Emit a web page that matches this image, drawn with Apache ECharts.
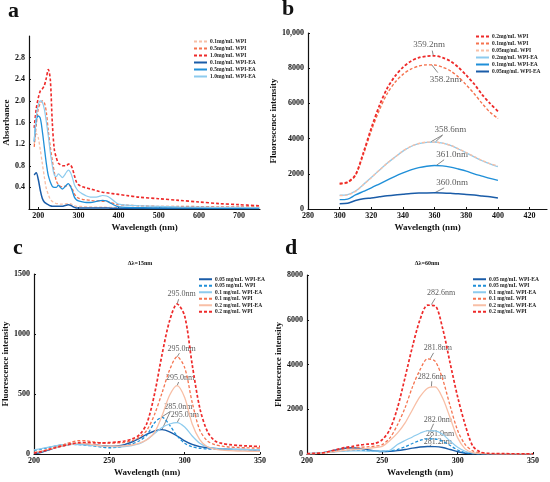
<!DOCTYPE html>
<html>
<head>
<meta charset="utf-8">
<script src="https://cdn.jsdelivr.net/npm/echarts@6/dist/echarts.min.js"></script>
<style>
html, body { margin: 0; padding: 0; background: #fff; }
#chart { width: 550px; height: 482px; }
</style>
</head>
<body>
<div id="chart"></div>
<script>
// ---- panel a : UV absorbance ----
var aX = [190, 195, 200, 205, 210, 215, 220, 225, 230, 235, 240, 245, 250, 255, 260, 265, 270, 275, 280, 285, 290, 295, 300, 310, 320, 330, 340, 350, 360, 370, 380, 390, 400, 420, 450, 500, 550, 600, 650, 700, 750];
var aWpi01 = [1.20, 1.40, 1.32, 1.10, 0.85, 0.60, 0.38, 0.27, 0.18, 0.14, 0.12, 0.10, 0.10, 0.09, 0.09, 0.09, 0.10, 0.10, 0.10, 0.08, 0.06, 0.05, 0.05, 0.045, 0.04, 0.04, 0.035, 0.035, 0.035, 0.03, 0.03, 0.03, 0.03, 0.025, 0.025, 0.02, 0.02, 0.02, 0.02, 0.02, 0.02];
var aWpi05 = [1.15, 1.55, 1.85, 1.95, 2.00, 1.97, 1.80, 1.45, 1.15, 0.90, 0.68, 0.52, 0.45, 0.42, 0.41, 0.42, 0.43, 0.44, 0.43, 0.37, 0.28, 0.23, 0.20, 0.18, 0.17, 0.16, 0.15, 0.15, 0.14, 0.14, 0.12, 0.10, 0.08, 0.07, 0.06, 0.05, 0.05, 0.045, 0.04, 0.04, 0.035];
var aWpi10 = [1.50, 1.85, 2.05, 2.18, 2.22, 2.28, 2.42, 2.58, 2.40, 1.60, 1.10, 0.95, 0.85, 0.82, 0.80, 0.80, 0.80, 0.83, 0.82, 0.75, 0.62, 0.50, 0.45, 0.41, 0.39, 0.37, 0.35, 0.33, 0.31, 0.30, 0.29, 0.28, 0.27, 0.25, 0.22, 0.19, 0.16, 0.13, 0.10, 0.08, 0.06];
var aEa01 = [0.63, 0.67, 0.55, 0.35, 0.20, 0.13, 0.10, 0.08, 0.06, 0.05, 0.05, 0.05, 0.05, 0.05, 0.05, 0.06, 0.07, 0.08, 0.07, 0.05, 0.03, 0.02, 0.02, 0.02, 0.02, 0.02, 0.02, 0.02, 0.02, 0.02, 0.015, 0.015, 0.01, 0.01, 0.01, 0.01, 0.01, 0.01, 0.01, 0.01, 0.01];
var aEa05 = [1.25, 1.65, 1.72, 1.68, 1.45, 1.15, 0.85, 0.62, 0.50, 0.42, 0.40, 0.40, 0.44, 0.40, 0.37, 0.40, 0.44, 0.47, 0.42, 0.33, 0.22, 0.17, 0.15, 0.13, 0.12, 0.12, 0.13, 0.15, 0.16, 0.15, 0.11, 0.07, 0.04, 0.03, 0.025, 0.02, 0.02, 0.02, 0.015, 0.015, 0.015];
var aEa10 = [1.25, 1.70, 1.92, 2.00, 1.98, 1.85, 1.62, 1.35, 1.05, 0.80, 0.63, 0.60, 0.65, 0.62, 0.58, 0.62, 0.68, 0.72, 0.68, 0.58, 0.45, 0.38, 0.33, 0.28, 0.24, 0.22, 0.22, 0.23, 0.25, 0.24, 0.20, 0.14, 0.09, 0.07, 0.06, 0.05, 0.04, 0.035, 0.03, 0.03, 0.025];
var aXTicks = [200, 300, 400, 500, 600, 700];
var aYTicks = [0.4, 0.8, 1.2, 1.6, 2.0, 2.4, 2.8];

// ---- panel b : intrinsic fluorescence ----
var bX = [300, 305, 310, 315, 320, 325, 330, 335, 340, 345, 350, 355, 360, 365, 370, 375, 380, 385, 390, 395, 400];
var bWpi02 = [1450, 1530, 1950, 3200, 4600, 5850, 6850, 7550, 8050, 8400, 8600, 8680, 8700, 8600, 8400, 8050, 7600, 7100, 6500, 6000, 5550];
var bWpi01 = [1420, 1500, 1900, 3100, 4450, 5600, 6550, 7200, 7650, 7950, 8120, 8190, 8180, 8060, 7850, 7500, 7050, 6550, 6000, 5500, 5150];
var bWpi005 = [760, 800, 1000, 1380, 1780, 2200, 2600, 2950, 3300, 3560, 3720, 3800, 3800, 3740, 3620, 3420, 3200, 2980, 2760, 2580, 2450];
var bEa02 = [780, 820, 1020, 1390, 1790, 2200, 2600, 2950, 3290, 3550, 3710, 3790, 3800, 3740, 3610, 3410, 3190, 2960, 2740, 2560, 2400];
var bEa01 = [530, 560, 800, 1000, 1200, 1420, 1640, 1860, 2050, 2220, 2350, 2430, 2470, 2450, 2380, 2270, 2150, 2000, 1870, 1740, 1630];
var bEa005 = [300, 330, 480, 580, 630, 690, 750, 800, 840, 880, 905, 915, 920, 910, 890, 860, 830, 790, 740, 690, 630];
var bXTicks = [280, 300, 320, 340, 360, 380, 400, 420];

// ---- panels c, d : synchronous fluorescence ----
var cdX = [200, 205, 210, 215, 220, 225, 230, 235, 240, 245, 250, 255, 260, 265, 270, 275, 280, 285, 290, 295, 300, 305, 310, 315, 320, 325, 330, 335, 340, 345, 350];
var cEa005 = [3, 15, 35, 55, 70, 80, 85, 82, 75, 70, 66, 68, 78, 100, 130, 165, 192, 203, 185, 150, 110, 80, 62, 52, 46, 42, 40, 38, 37, 36, 36];
var cWpi005 = [30, 40, 55, 68, 78, 80, 78, 72, 66, 58, 52, 55, 65, 85, 110, 160, 260, 305, 240, 150, 90, 60, 48, 42, 40, 38, 37, 36, 36, 35, 35];
var cEa01 = [35, 45, 58, 70, 78, 80, 78, 74, 70, 66, 63, 60, 62, 70, 85, 120, 170, 220, 250, 262, 225, 150, 90, 60, 48, 42, 40, 38, 37, 36, 36];
var cWpi01 = [10, 22, 40, 60, 80, 100, 112, 110, 100, 92, 90, 92, 97, 110, 140, 200, 330, 510, 700, 810, 720, 430, 200, 110, 78, 65, 58, 55, 52, 50, 50];
var cEa02 = [15, 25, 40, 55, 70, 82, 90, 85, 75, 68, 65, 66, 68, 75, 90, 120, 180, 320, 490, 570, 470, 250, 120, 60, 40, 32, 28, 25, 24, 22, 22];
var cWpi02 = [8, 20, 38, 55, 70, 85, 95, 96, 93, 92, 95, 100, 108, 125, 160, 258, 500, 830, 1110, 1250, 1150, 745, 385, 190, 110, 88, 78, 72, 68, 65, 63];
var dEa005 = [10, 20, 50, 110, 190, 260, 280, 250, 190, 140, 110, 120, 150, 200, 260, 310, 335, 330, 290, 200, 100, 35, 10, 5, 5, 5, 5, 5, 5, 5, 5];
var dWpi005 = [10, 20, 40, 80, 120, 150, 165, 165, 150, 130, 120, 140, 200, 320, 470, 610, 680, 670, 570, 380, 180, 60, 20, 10, 10, 10, 10, 10, 10, 10, 10];
var dEa01 = [20, 30, 50, 80, 110, 130, 140, 140, 130, 125, 130, 170, 420, 600, 760, 930, 1040, 1030, 880, 580, 300, 120, 40, 15, 10, 10, 10, 10, 10, 10, 10];
var dWpi01 = [10, 20, 40, 100, 170, 230, 270, 300, 320, 350, 420, 720, 1300, 2050, 3000, 3760, 4250, 4150, 3350, 2150, 1050, 420, 140, 50, 20, 15, 12, 10, 10, 10, 10];
var dEa02 = [10, 20, 40, 80, 120, 160, 190, 220, 250, 290, 340, 600, 930, 1380, 1980, 2560, 2940, 3000, 2500, 1620, 720, 230, 60, 25, 15, 12, 10, 10, 10, 10, 10];
var dWpi02 = [15, 30, 45, 120, 210, 290, 340, 400, 440, 470, 640, 1100, 2050, 3400, 4800, 6000, 6650, 6620, 5620, 4060, 2550, 1300, 360, 90, 30, 20, 15, 12, 10, 10, 10];

// peak annotations: text, label position, leader-line start(s) at the peak
var bNotes = [
    { text: '359.2nm', at: [356.5, 9330], from: [[359.2, 8700]], to: [358.5, 9000] },
    { text: '358.2nm', at: [367, 7350], from: [[358.2, 8190]], to: [362, 7750] },
    { text: '358.6nm', at: [370, 4520], from: [[357.5, 3810], [360.5, 3810]], to: [365, 4200] },
    { text: '361.0nm', at: [371, 3090], from: [[361, 2470]], to: [366, 2800] },
    { text: '360.0nm', at: [371, 1490], from: [[360, 920]], to: [366, 1200] }
];
var cNotes = [
    { text: '295.0nm', at: [298, 1330], from: [[295, 1250]], to: [296, 1290] },
    { text: '295.0nm', at: [298, 875], from: [[295, 810]], to: [296.5, 840] },
    { text: '295.0nm', at: [297, 633], from: [[295, 570]], to: [296, 600] },
    { text: '285.0nm', at: [295.8, 389], from: [[285, 205], [284.5, 306]], to: [290.5, 355] },
    { text: '295.0nm', at: [300.2, 327], from: [[295, 262]], to: [296.5, 298] }
];
var dNotes = [
    { text: '282.6nm', at: [289, 7180], from: [[282.6, 6680]], to: [285, 6950] },
    { text: '281.8nm', at: [286.9, 4730], from: [[281.8, 4260]], to: [284, 4520] },
    { text: '282.6nm', at: [282.9, 3460], from: [[282.6, 3010]], to: [282.8, 3250] },
    { text: '282.0nm', at: [286.9, 1530], from: [[282, 1050]], to: [284, 1350] },
    { text: '281.0nm', at: [288.4, 905], from: [[281, 690]], to: [283, 800] },
    { text: '281.2nm', at: [286.9, 535], from: [[281.2, 336]], to: [282.5, 420] }
];

var SERIF = 'Liberation Serif';
var RED = '#ee2a2a', ORANGE = '#f5734f', PEACH = '#f8bfa6';
var DBLUE = '#1a5ca8', MBLUE = '#1f8fd8', LBLUE = '#8dcbee';

function zip(xs, ys) {
    var out = [];
    for (var i = 0; i < xs.length; i++) out.push([xs[i], ys[i]]);
    return out;
}

function curve(name, idx, xs, ys, color, dashed, width) {
    return {
        name: name, type: 'line', xAxisIndex: idx, yAxisIndex: idx,
        data: zip(xs, ys), smooth: 0.3, showSymbol: false, symbol: 'none',
        lineStyle: { color: color, width: width, type: dashed ? [3, 2] : 'solid' },
        itemStyle: { color: color },
        silent: true
    };
}

function notes(idx, list, size) {
    var pts = [], segs = [];
    list.forEach(function (n) {
        pts.push({ value: n.at, name: n.text });
        n.from.forEach(function (f) { segs.push({ coords: [f, n.to] }); });
    });
    return [{
        type: 'lines', coordinateSystem: 'cartesian2d', xAxisIndex: idx, yAxisIndex: idx,
        data: segs, silent: true, symbol: 'none',
        lineStyle: { color: '#555', width: 0.7, opacity: 1 }
    }, {
        type: 'scatter', xAxisIndex: idx, yAxisIndex: idx, data: pts,
        symbolSize: 1, itemStyle: { color: 'rgba(0,0,0,0)' }, silent: true,
        label: { show: true, position: 'inside', formatter: '{b}', color: '#333', fontFamily: SERIF, fontSize: size }
    }];
}

function legend(names, left, top, step) {
    return {
        data: names, orient: 'vertical', left: left, top: top, padding: 0,
        itemGap: 0, itemWidth: 13, itemHeight: 4, selectedMode: false,
        itemStyle: { opacity: 0 },
        textStyle: { fontFamily: SERIF, fontWeight: 'bold', fontSize: 5.5, lineHeight: step, color: '#222', padding: [0, 0, 0, -2] }
    };
}

var axisLine = { show: true, lineStyle: { color: '#111', width: 1.2 } };
var label = { fontFamily: SERIF, fontWeight: 'bold', fontSize: 8, color: '#111' };
var nameStyle = { fontFamily: SERIF, fontWeight: 'bold', fontSize: 9, color: '#111' };
var plain = function (v) { return String(v); };

function xAxis(idx, min, max, ticks, interval) {
    var ax = {
        type: 'value', gridIndex: idx, min: min, max: max,
        name: 'Wavelength (nm)', nameLocation: 'middle', nameGap: 14, nameTextStyle: nameStyle,
        axisLine: axisLine, splitLine: { show: false },
        axisTick: { show: true, inside: true, length: 2, lineStyle: { color: '#111' } },
        axisLabel: Object.assign({ margin: 3, formatter: plain }, label)
    };
    if (ticks) {
        ax.axisTick.customValues = ticks;
        ax.axisLabel.customValues = ticks;
    } else {
        ax.interval = interval;
    }
    return ax;
}

function yAxis(idx, min, max, interval, name, gap, fmt, ticks) {
    var ax = {
        type: 'value', gridIndex: idx, min: min, max: max, interval: interval,
        name: name, nameLocation: 'middle', nameGap: gap, nameTextStyle: nameStyle,
        axisLine: axisLine, splitLine: { show: false },
        axisTick: { show: true, inside: true, length: 2, lineStyle: { color: '#111' } },
        axisLabel: Object.assign({ margin: 4, formatter: fmt }, label)
    };
    if (ticks) {
        ax.axisTick.customValues = ticks;
        ax.axisLabel.customValues = ticks;
    }
    return ax;
}

var sp = ' '; // keeps panel b names apart from panel a names
var series = [
    curve('0.1mg/mL WPI', 0, aX, aWpi01, PEACH, true, 1.3),
    curve('0.5mg/mL WPI', 0, aX, aWpi05, ORANGE, true, 1.3),
    curve('1.0mg/mL WPI', 0, aX, aWpi10, RED, true, 1.6),
    curve('0.1mg/mL WPI-EA', 0, aX, aEa01, DBLUE, false, 1.5),
    curve('0.5mg/mL WPI-EA', 0, aX, aEa05, MBLUE, false, 1.3),
    curve('1.0mg/mL WPI-EA', 0, aX, aEa10, LBLUE, false, 1.2),

    curve('0.2mg/mL WPI-EA' + sp, 1, bX, bEa02, LBLUE, false, 1.3),
    curve('0.05mg/mL WPI' + sp, 1, bX, bWpi005, PEACH, true, 1.4),
    curve('0.1mg/mL WPI-EA' + sp, 1, bX, bEa01, MBLUE, false, 1.4),
    curve('0.05mg/mL WPI-EA' + sp, 1, bX, bEa005, DBLUE, false, 1.5),
    curve('0.1mg/mL WPI' + sp, 1, bX, bWpi01, ORANGE, true, 1.4),
    curve('0.2mg/mL WPI' + sp, 1, bX, bWpi02, RED, true, 1.8),

    curve('0.05 mg/mL WPI-EA', 2, cdX, cEa005, DBLUE, false, 1.4),
    curve('0.05 mg/mL WPI', 2, cdX, cWpi005, MBLUE, true, 1.3),
    curve('0.1 mg/mL WPI-EA', 2, cdX, cEa01, LBLUE, false, 1.2),
    curve('0.1 mg/mL WPI', 2, cdX, cWpi01, ORANGE, true, 1.3),
    curve('0.2 mg/mL WPI-EA', 2, cdX, cEa02, PEACH, false, 1.3),
    curve('0.2 mg/mL WPI', 2, cdX, cWpi02, RED, true, 1.7),

    curve('0.05 mg/mL WPI-EA', 3, cdX, dEa005, DBLUE, false, 1.4),
    curve('0.05 mg/mL WPI', 3, cdX, dWpi005, MBLUE, true, 1.3),
    curve('0.1 mg/mL WPI-EA', 3, cdX, dEa01, LBLUE, false, 1.2),
    curve('0.1 mg/mL WPI', 3, cdX, dWpi01, ORANGE, true, 1.3),
    curve('0.2 mg/mL WPI-EA', 3, cdX, dEa02, PEACH, false, 1.3),
    curve('0.2 mg/mL WPI', 3, cdX, dWpi02, RED, true, 1.7)
].concat(notes(1, bNotes, 9), notes(2, cNotes, 8), notes(3, dNotes, 8));

var cdNames = ['0.05 mg/mL WPI-EA', '0.05 mg/mL WPI', '0.1 mg/mL WPI-EA', '0.1 mg/mL WPI', '0.2 mg/mL WPI-EA', '0.2 mg/mL WPI'];
var letter = { fontFamily: SERIF, fontWeight: 'bold', fontSize: 22, color: '#111' };
var sub = { fontFamily: SERIF, fontWeight: 'bold', fontSize: 6, color: '#111' };

option = {
    backgroundColor: '#fff',
    animation: false,
    title: [
        { text: 'a', left: 8, top: 0, padding: 0, textStyle: letter },
        { text: 'b', left: 282, top: -2, padding: 0, textStyle: letter },
        { text: 'c', left: 13, top: 237, padding: 0, textStyle: letter },
        { text: 'd', left: 285, top: 237, padding: 0, textStyle: letter },
        { text: 'Δλ=15nm', left: 140, top: 260, padding: 0, textAlign: 'center', textStyle: sub },
        { text: 'Δλ=60nm', left: 427, top: 260, padding: 0, textAlign: 'center', textStyle: sub }
    ],
    legend: [
        legend(['0.1mg/mL WPI', '0.5mg/mL WPI', '1.0mg/mL WPI', '0.1mg/mL WPI-EA', '0.5mg/mL WPI-EA', '1.0mg/mL WPI-EA'], 193, 38, 7),
        legend(['0.2mg/mL WPI' + sp, '0.1mg/mL WPI' + sp, '0.05mg/mL WPI' + sp, '0.2mg/mL WPI-EA' + sp, '0.1mg/mL WPI-EA' + sp, '0.05mg/mL WPI-EA' + sp], 475, 33, 7),
        legend(cdNames, 198, 276, 6.5),
        legend(cdNames, 472, 276, 6.5)
    ],
    grid: [
        { left: 29, right: 290, top: 36, bottom: 273 },
        { left: 308, right: 3, top: 33, bottom: 273 },
        { left: 34, right: 290, top: 274, bottom: 28 },
        { left: 307, right: 17, top: 275, bottom: 28 }
    ],
    xAxis: [
        xAxis(0, 177, 752, aXTicks),
        xAxis(1, 280, 431, bXTicks),
        xAxis(2, 200, 350, null, 50),
        xAxis(3, 200, 350, null, 50)
    ],
    yAxis: [
        yAxis(0, 0, 3.2, null, 'Absorbance', 17, function (v) { return v.toFixed(1); }, aYTicks),
        yAxis(1, 0, 10000, 2000, 'Fluorescence intensity', 27, function (v) { return v === 10000 ? '10,000' : String(v); }),
        yAxis(2, 0, 1500, 500, 'Fluorescence intensity', 19, plain),
        yAxis(3, 0, 8000, 2000, 'Fluorescence intensity', 22, plain)
    ],
    series: series
};

var myChart = echarts.init(document.getElementById('chart'));
myChart.setOption(option, true);
</script>
</body>
</html>
